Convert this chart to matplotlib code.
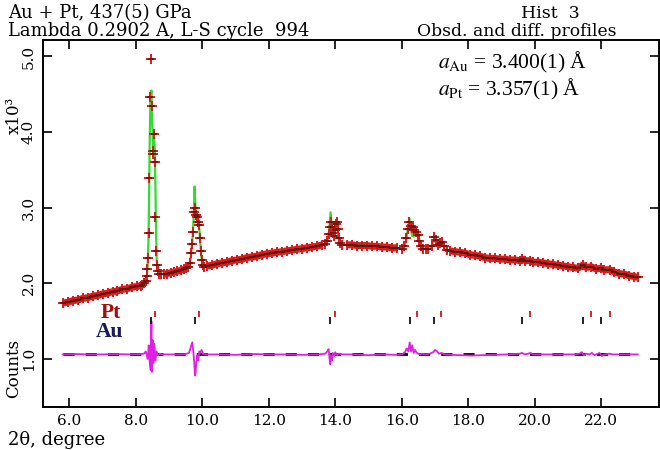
import numpy as np
import matplotlib
matplotlib.use("Agg")
import matplotlib.pyplot as plt

plt.rcParams['mathtext.fontset'] = 'stix'

# ---------------- data (counts in thousands) ----------------
# background observed points (outside the peak regions)
bg_x = [5.80, 5.95, 6.10, 6.25, 6.40, 6.55, 6.70, 6.85, 7.00, 7.15, 7.30, 7.45, 7.60, 7.75, 7.90, 8.05, 8.15,
        8.85, 8.95, 9.05, 9.15, 9.25, 9.35, 9.45,
        10.15, 10.30, 10.45, 10.60, 10.75, 10.90, 11.05, 11.20, 11.35, 11.50, 11.65, 11.80, 11.95, 12.10,
        12.25, 12.40, 12.55, 12.70, 12.85, 13.00, 13.15, 13.30, 13.45, 13.60,
        14.35, 14.50, 14.65, 14.80, 14.95, 15.10, 15.25, 15.40, 15.55, 15.70, 15.85,
        16.72,
        17.45, 17.60, 17.75, 17.90, 18.05, 18.20, 18.35, 18.50, 18.65, 18.80, 18.95, 19.10, 19.25, 19.40,
        19.55, 19.63, 19.72, 19.86, 19.95, 20.10, 20.25, 20.40, 20.55, 20.70, 20.85, 21.00, 21.15, 21.30,
        21.44, 21.55, 21.70, 21.85, 21.99, 22.10, 22.26, 22.40, 22.55, 22.70, 22.85, 23.00, 23.10]
bg_y = [1.74, 1.75, 1.77, 1.78, 1.80, 1.81, 1.83, 1.84, 1.86, 1.87, 1.89, 1.90, 1.92, 1.93, 1.95, 1.96, 1.97,
        2.12, 2.13, 2.14, 2.15, 2.16, 2.17, 2.19,
        2.23, 2.24, 2.26, 2.27, 2.28, 2.30, 2.31, 2.32, 2.34, 2.35, 2.36, 2.38, 2.39, 2.40,
        2.41, 2.42, 2.43, 2.44, 2.45, 2.46, 2.47, 2.48, 2.49, 2.51,
        2.51, 2.51, 2.50, 2.50, 2.50, 2.49, 2.49, 2.48, 2.48, 2.47, 2.47,
        2.46,
        2.43, 2.42, 2.41, 2.40, 2.38, 2.37, 2.36, 2.34, 2.33, 2.33, 2.32, 2.32, 2.31, 2.31,
        2.30, 2.32, 2.30, 2.30, 2.28, 2.28, 2.27, 2.26, 2.25, 2.24, 2.23, 2.22, 2.21, 2.20,
        2.24, 2.21, 2.22, 2.19, 2.20, 2.18, 2.18, 2.15, 2.13, 2.12, 2.10, 2.09, 2.08]

# observed points in the peak regions
pk_obs_x = [8.20, 8.26, 8.30, 8.33, 8.35, 8.37, 8.39, 8.41, 8.43, 8.46, 8.49, 8.51, 8.53, 8.55, 8.57, 8.59,
            8.61, 8.63, 8.66, 8.70, 8.75,
            9.50, 9.58, 9.62, 9.66, 9.69, 9.73, 9.76, 9.79, 9.82, 9.85, 9.88, 9.91, 9.94, 9.96, 9.98, 10.01, 10.05,
            13.70, 13.76, 13.80, 13.83, 13.86, 13.89, 13.92, 13.95, 13.98, 14.01, 14.04, 14.07, 14.10, 14.14, 14.20,
            16.00, 16.08, 16.13, 16.18, 16.23, 16.28, 16.33, 16.38, 16.43, 16.48, 16.53, 16.58, 16.65,
            16.80, 16.90, 16.97, 17.03, 17.10, 17.16, 17.21, 17.27, 17.35]
pk_obs_y = [1.98, 2.00, 2.03, 2.10, 2.19, 2.33, 2.66, 3.39, 4.46, 4.97, 4.35, 3.71, 3.75, 3.97, 3.60, 2.88,
            2.43, 2.24, 2.16, 2.13, 2.12,
            2.20, 2.22, 2.27, 2.40, 2.52, 2.68, 2.95, 2.99, 2.90, 2.88, 2.81, 2.77, 2.60, 2.43, 2.31, 2.24, 2.22,
            2.52, 2.56, 2.65, 2.75, 2.81, 2.74, 2.66, 2.63, 2.70, 2.79, 2.81, 2.72, 2.60, 2.53, 2.51,
            2.46, 2.50, 2.60, 2.72, 2.81, 2.76, 2.74, 2.70, 2.68, 2.64, 2.56, 2.49, 2.46,
            2.45, 2.50, 2.61, 2.57, 2.51, 2.54, 2.55, 2.49, 2.44]

# calculated profile in the peak regions
pk_calc_x = [8.20, 8.30, 8.33, 8.36, 8.38, 8.40, 8.42, 8.44, 8.47, 8.49, 8.51, 8.53, 8.55, 8.57, 8.59, 8.61,
             8.63, 8.65, 8.68, 8.75,
             9.50, 9.60, 9.66, 9.70, 9.74, 9.77, 9.79, 9.82, 9.85, 9.88, 9.91, 9.94, 9.97, 10.00, 10.05,
             13.70, 13.78, 13.82, 13.86, 13.90, 13.94, 13.97, 14.01, 14.04, 14.08, 14.12, 14.20,
             16.00, 16.08, 16.14, 16.19, 16.23, 16.27, 16.31, 16.35, 16.40, 16.44, 16.47, 16.51, 16.56, 16.62, 16.65,
             16.80, 16.90, 16.97, 17.03, 17.10, 17.16, 17.21, 17.27, 17.35]
pk_calc_y = [1.98, 2.03, 2.08, 2.25, 2.55, 3.10, 3.90, 4.40, 4.55, 4.25, 3.90, 3.80, 3.90, 3.80, 3.30, 2.70,
             2.32, 2.20, 2.14, 2.12,
             2.20, 2.24, 2.35, 2.55, 2.85, 3.28, 3.05, 2.85, 2.90, 2.85, 2.72, 2.55, 2.36, 2.26, 2.22,
             2.52, 2.58, 2.72, 2.94, 2.72, 2.62, 2.66, 2.80, 2.84, 2.68, 2.55, 2.51,
             2.46, 2.49, 2.58, 2.74, 2.86, 2.74, 2.63, 2.62, 2.64, 2.70, 2.71, 2.62, 2.51, 2.47, 2.46,
             2.45, 2.48, 2.58, 2.54, 2.50, 2.53, 2.54, 2.48, 2.44]

# difference curve (plotted with its offset baseline)
diff_base = 1.06
diff_x = [5.80, 6.20, 6.60, 7.00, 7.40, 7.80, 8.10, 8.25, 8.30, 8.33, 8.36, 8.39, 8.42, 8.45, 8.47, 8.49,
          8.51, 8.53, 8.56, 8.59, 8.62, 8.66, 8.72, 8.80, 9.00, 9.30, 9.50, 9.60, 9.65, 9.70, 9.73, 9.76,
          9.78, 9.80, 9.82, 9.85, 9.88, 9.91, 9.94, 9.98, 10.02, 10.10, 10.50, 11.00, 11.30, 11.60, 12.00,
          12.50, 13.00, 13.50, 13.70, 13.76, 13.80, 13.83, 13.85, 13.87, 13.90, 13.93, 13.97, 14.00, 14.05,
          14.10, 14.20, 14.60, 15.00, 15.40, 15.80, 16.00, 16.10, 16.15, 16.20, 16.24, 16.28, 16.32, 16.36,
          16.40, 16.45, 16.50, 16.55, 16.62, 16.70, 16.85, 16.95, 17.00, 17.06, 17.12, 17.20, 17.30, 17.50,
          17.80, 18.10, 18.40, 18.80, 19.20, 19.55, 19.62, 19.70, 19.80, 19.88, 19.95, 20.30, 20.80, 21.20,
          21.35, 21.42, 21.48, 21.55, 21.65, 21.72, 21.80, 21.95, 22.02, 22.10, 22.25, 22.35, 22.70, 23.10]
diff_y = [1.06, 1.065, 1.06, 1.06, 1.065, 1.06, 1.065, 1.07, 1.10, 1.05, 1.00, 1.18, 0.95, 0.85, 1.50, 0.83,
          1.25, 0.95, 1.20, 0.98, 1.10, 1.05, 1.07, 1.06, 1.06, 1.06, 1.065, 1.08, 1.15, 1.22, 1.10, 0.95,
          0.78, 0.82, 0.95, 1.05, 0.98, 1.10, 1.08, 1.12, 1.07, 1.06, 1.06, 1.055, 1.06, 1.065, 1.06,
          1.06, 1.055, 1.06, 1.07, 1.10, 1.13, 1.00, 0.93, 1.05, 0.98, 1.08, 1.04, 1.09, 1.05,
          1.07, 1.06, 1.06, 1.05, 1.06, 1.055, 1.06, 1.09, 1.14, 1.10, 1.22, 1.10, 1.18, 1.08,
          1.12, 1.08, 1.07, 1.06, 1.07, 1.06, 1.07, 1.09, 1.12, 1.10, 1.07, 1.08, 1.06, 1.055,
          1.05, 1.045, 1.05, 1.055, 1.06, 1.07, 1.08, 1.06, 1.07, 1.08, 1.06, 1.06, 1.06, 1.06,
          1.07, 1.09, 1.05, 1.07, 1.06, 1.08, 1.05, 1.08, 1.04, 1.06, 1.07, 1.06, 1.06, 1.06]

# reflection positions (degrees 2-theta)
au_pos = [8.45, 9.77, 13.84, 16.26, 16.97, 19.63, 21.44, 21.99]
pt_pos = [8.58, 9.90, 13.99, 16.47, 17.18, 19.86, 21.70, 22.26]

x_ticks = [6.0, 8.0, 10.0, 12.0, 14.0, 16.0, 18.0, 20.0, 22.0]
y_ticks = [1.0, 2.0, 3.0, 4.0, 5.0]

# ---------------- assemble ----------------
obs_x = np.array(bg_x + pk_obs_x)
obs_y = np.array(bg_y + pk_obs_y)
o = np.argsort(obs_x)
obs_x, obs_y = obs_x[o], obs_y[o]
calc_x = np.array(bg_x + pk_calc_x)
calc_y = np.array(bg_y + pk_calc_y)
c = np.argsort(calc_x)
calc_x, calc_y = calc_x[c], calc_y[c]

# background band drawn as segments (broken where peaks interrupt)
band_x, band_y = [], []
for i, (xv, yv) in enumerate(zip(bg_x, bg_y)):
    if i > 0 and xv - bg_x[i - 1] > 0.3:
        band_x.append(np.nan)
        band_y.append(np.nan)
    band_x.append(xv)
    band_y.append(yv)

W, H = 660, 450
fig = plt.figure(figsize=(W / 100, H / 100), dpi=100)
L, R, T, B = 42.7, 659, 40, 407
ax = fig.add_axes([L / W, 1 - B / H, (R - L) / W, (B - T) / H])
ax.set_xlim(5.20, 23.74)
ax.set_ylim(0.365, 5.218)

serif = 'DejaVu Serif'
red = '#e2161c'
dark = '#5a1a0c'

# difference curve
ax.plot([diff_x[0], diff_x[-1]], [diff_base, diff_base], color='black', lw=2.0,
        dashes=(4, 4), zorder=2)
ax.plot(diff_x, diff_y, color='#e020e0', lw=1.3, zorder=3)

# observed band + calculated
ax.plot(band_x, band_y, color=red, lw=5.0, solid_capstyle='butt', zorder=4)
ax.plot(calc_x, calc_y, color='#2fdc2f', lw=1.6, zorder=5)
ax.plot(obs_x, obs_y, ls='none', marker='+', ms=7, mew=1.4, color=red, zorder=6)
ax.plot(obs_x, obs_y, ls='none', marker='_', ms=5, mew=1.2, color=dark, zorder=7)
ax.plot(band_x, band_y, color=dark, lw=1.4, zorder=7)

# reflection ticks
ax.vlines(pt_pos, 1.56, 1.64, color='#d01818', lw=1.3, zorder=3)
ax.vlines(au_pos, 1.46, 1.55, color='#111111', lw=1.3, zorder=3)

# axes styling
for s in ax.spines.values():
    s.set_linewidth(1.4)
ax.set_xticks(x_ticks)
ax.set_xticklabels([f'{v:.1f}' for v in x_ticks], family=serif, fontsize=11)
ax.set_yticks(y_ticks)
ax.set_yticklabels([f'{v:.1f}' for v in y_ticks], family=serif, fontsize=11,
                   rotation=90, va='center')
ax.tick_params(direction='in', length=6.5, width=1.2, top=True, right=True, pad=5)

# text labels
fig.text(8 / W, 1 - 13 / H, 'Au + Pt, 437(5) GPa', family=serif, fontsize=13, va='center')
fig.text(8 / W, 1 - 31 / H, 'Lambda 0.2902 A, L-S cycle  994', family=serif, fontsize=13, va='center')
fig.text(521 / W, 1 - 13 / H, 'Hist  3', family=serif, fontsize=12.5, va='center')
fig.text(417 / W, 1 - 31 / H, 'Obsd. and diff. profiles', family=serif, fontsize=12.3, va='center')
fig.text(14 / W, 1 - 115 / H, 'x10³', family=serif, fontsize=12, rotation=90, ha='center', va='center')
fig.text(14 / W, 1 - 368 / H, 'Counts', family=serif, fontsize=12, rotation=90, ha='center', va='center')
fig.text(8 / W, 1 - 440 / H, '2θ, degree', family=serif, fontsize=13, va='center')

fig.text(438 / W, 1 - 68 / H, r'$a_{\mathrm{Au}}$ = 3.400(1) Å', family='Liberation Serif',
         fontsize=15.5, va='baseline')
fig.text(438 / W, 1 - 95 / H, r'$a_{\mathrm{Pt}}$ = 3.357(1) Å', family='Liberation Serif',
         fontsize=15.5, va='baseline')

fig.text(111 / W, 1 - 313 / H, 'Pt', family='Liberation Serif', fontweight='bold', fontsize=15.5,
         color='#a01010', ha='center', va='center')
fig.text(109 / W, 1 - 332 / H, 'Au', family='Liberation Serif', fontweight='bold', fontsize=15.5,
         color='#1a1a5a', ha='center', va='center')

fig.savefig('out.png', dpi=100)
